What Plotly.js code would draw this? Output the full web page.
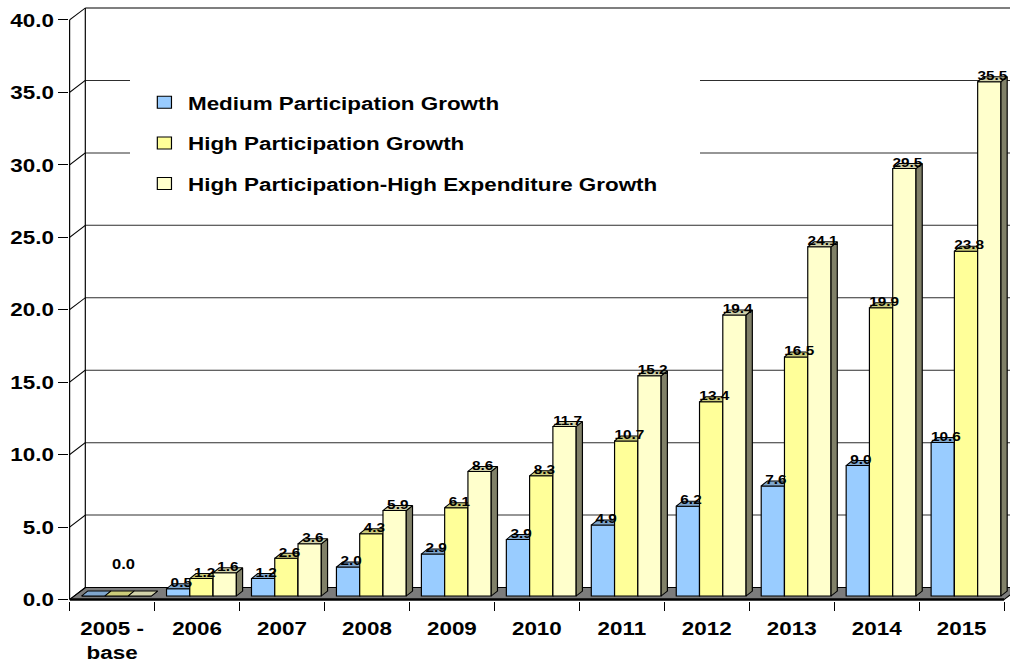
<!DOCTYPE html>
<html>
<head>
<meta charset="utf-8">
<script src="https://cdn.plot.ly/plotly-3.0.1.min.js"></script>
<style>
  html, body { margin: 0; padding: 0; background: #fff; overflow: hidden; }
  #wrap { position: absolute; left: 0; top: 0; width: 856px; height: 670px;
          transform: scaleX(1.17991); transform-origin: 0 0; }
  #chart { width: 856px; height: 670px; }
</style>
</head>
<body>
<div id="wrap"><div id="chart"></div></div>
<script>
// ---- data ----
const categories = ['2005 -<br>base', '2006', '2007', '2008', '2009', '2010', '2011', '2012', '2013', '2014', '2015'];
const seriesNames = ['Medium Participation Growth', 'High Participation Growth', 'High Participation-High Expenditure Growth'];
const mediumGrowth = [0.0, 0.5, 1.2, 2.0, 2.9, 3.9, 4.9, 6.2, 7.6, 9.0, 10.6];
const highGrowth = [0.0, 1.2, 2.6, 4.3, 6.1, 8.3, 10.7, 13.4, 16.5, 19.9, 23.8];
const highExpGrowth = [0.0, 1.6, 3.6, 5.9, 8.6, 11.7, 15.2, 19.4, 24.1, 29.5, 35.5];
const yTickValues = [0, 5, 10, 15, 20, 25, 30, 35, 40];
const yTickLabels = ['0.0', '5.0', '10.0', '15.0', '20.0', '25.0', '30.0', '35.0', '40.0'];

// ---- geometry of the pseudo-3D frame (pixels) ----
const W = 856, H = 670;
const ML = 59, MR = 0, MT = 6, MB = 68.5;
const PLOT_W = W - ML - MR, PLOT_H = H - MT - MB;
const CAT_PX = 72;          // width of one category on the front plane
const UNIT_PX = 14.5;       // pixels per value unit
const BACK_DX = 13.3, BACK_DY = 12;   // back wall offset
const BAR_DX = 3.7, BAR_DY = 3.5;     // bar plane offset
const DEP_DX = 5.3, DEP_DY = 5;       // bar depth
const BAR_W = 0.274;
const BAR_OFFSETS = [-0.4106, -0.1366, 0.1374];

const FONT = 'Liberation Sans, Arial, sans-serif';
const FRONT = ['#99CCFF', '#FFFF99', '#FFFFCC'];
const TOP = ['#7FA6CE', '#CCCC7A', '#D2D2AA'];
const SIDE = '#808068';

const nCat = categories.length;
const idx = categories.map((_, i) => i);

const xr = [-0.5, -0.5 + PLOT_W / CAT_PX];
const y0Px = H - MB - 1.5;                    // pixel row of value 0 on the front plane
const yr = [-(H - MB - y0Px) / UNIT_PX, (y0Px - MT) / UNIT_PX];

const bxU = BACK_DX / CAT_PX, byU = BACK_DY / UNIT_PX;
const barXU = BAR_DX / CAT_PX, barYU = BAR_DY / UNIT_PX;
const depXU = DEP_DX / CAT_PX, depYU = DEP_DY / UNIT_PX;
const backPaperX = BACK_DX / PLOT_W;

const allSeries = [mediumGrowth, highGrowth, highExpGrowth];
const traces = [];

// floor slab
traces.push({
  type: 'scatter', mode: 'lines', xaxis: 'x', yaxis: 'y',
  x: [-0.5, nCat - 0.5, nCat - 0.5 + bxU, -0.5 + bxU, -0.5],
  y: [0, 0, byU, byU, 0],
  fill: 'toself', fillcolor: '#7c7c7c',
  line: { color: '#000', width: 1 }, showlegend: false, hoverinfo: 'skip'
});
traces.push({
  type: 'scatter', mode: 'lines', xaxis: 'x2', yaxis: 'y',
  x: [-0.5, nCat - 0.5], y: [0, 0],
  line: { color: '#000', width: 2.5 }, showlegend: false, hoverinfo: 'skip'
});

// bars: front face (bar), side face and top face per series
allSeries.forEach((vals, s) => {
  const ax = 'x' + (s + 3), ay = 'y' + (s + 3);
  const off = BAR_OFFSETS[s];
  traces.push({
    type: 'bar', xaxis: ax, yaxis: ay, x: idx, y: vals,
    offset: off, width: BAR_W, name: seriesNames[s], legendgroup: 'g' + s,
    marker: { color: FRONT[s], line: { color: '#000', width: 1 } },
    hoverinfo: 'skip'
  });
  const sx = [], sy = [], tx = [], ty = [];
  vals.forEach((v, i) => {
    const a = i + off, b = i + off + BAR_W;
    sx.push(b, b + depXU, b + depXU, b, b, null);
    sy.push(0, depYU, v + depYU, v, 0, null);
    tx.push(a, b, b + depXU, a + depXU, a, null);
    ty.push(v, v, v + depYU, v + depYU, v, null);
  });
  traces.push({
    type: 'scatter', mode: 'lines', xaxis: ax, yaxis: ay, x: sx, y: sy,
    fill: 'toself', fillcolor: SIDE, line: { color: '#000', width: 1 },
    showlegend: false, legendgroup: 'g' + s, hoverinfo: 'skip'
  });
  traces.push({
    type: 'scatter', mode: 'lines', xaxis: ax, yaxis: ay, x: tx, y: ty,
    fill: 'toself', fillcolor: TOP[s], line: { color: '#000', width: 1 },
    showlegend: false, legendgroup: 'g' + s, hoverinfo: 'skip'
  });
});

// value labels sitting on the bar tops
allSeries.forEach((vals, s) => {
  traces.push({
    type: 'scatter', mode: 'text', xaxis: 'x5', yaxis: 'y5',
    x: vals.map((v, i) => i + BAR_OFFSETS[s] + BAR_W / 2 + depXU / 2),
    y: vals.map(v => v + depYU),
    text: vals.map((v, i) => (i === 0 ? '' : v.toFixed(1))),
    textposition: 'middle center', cliponaxis: false,
    textfont: { family: FONT, size: 13, color: '#000', weight: 'bold' },
    showlegend: false, hoverinfo: 'skip'
  });
});

// frame lines
const shapes = [];
yTickValues.forEach(v => {
  if (v > 0 && v < 40) {
    shapes.push({ type: 'line', layer: 'below', xref: 'paper', yref: 'y',
      x0: backPaperX, x1: 1, y0: v + byU, y1: v + byU,
      line: { color: '#2e2e2e', width: 1 } });
  }
});
// clear patch behind the legend
shapes.push({ type: 'rect', layer: 'below', xref: 'paper', yref: 'paper',
  x0: (130 / 1.17991 - ML) / PLOT_W, x1: (700 / 1.17991 - ML) / PLOT_W,
  y0: 1 - (212 - MT) / PLOT_H, y1: 1 - (70 - MT) / PLOT_H,
  fillcolor: '#fff', line: { width: 0 } });
shapes.push({ type: 'line', layer: 'below', xref: 'paper', yref: 'y',
  x0: backPaperX, x1: 1, y0: 40 + byU, y1: 40 + byU, line: { color: '#000', width: 1 } });
shapes.push({ type: 'line', layer: 'below', xref: 'paper', yref: 'y',
  x0: backPaperX, x1: backPaperX, y0: byU, y1: 40 + byU, line: { color: '#000', width: 1 } });
shapes.push({ type: 'line', layer: 'above', xref: 'paper', yref: 'y',
  x0: 0, x1: 0, y0: 0, y1: 40, line: { color: '#000', width: 1 } });
yTickValues.forEach(v => {
  shapes.push({ type: 'line', layer: 'above', xref: 'paper', yref: 'y',
    x0: 0, x1: backPaperX, y0: v, y1: v + byU, line: { color: '#000', width: 1 } });
});

const hiddenAxis = (over, anchor, range) => ({
  overlaying: over, anchor: anchor, range: range, visible: false, fixedrange: true
});

const layout = {
  width: W, height: H,
  margin: { l: ML, r: MR, t: MT, b: MB, pad: 0 },
  paper_bgcolor: '#fff', plot_bgcolor: 'rgba(0,0,0,0)',
  barmode: 'overlay', showlegend: true,
  font: { family: FONT, color: '#000' },
  xaxis: {
    range: xr, tickmode: 'array', tickvals: idx, ticktext: categories,
    ticks: 'outside', ticklen: 10, tickcolor: 'rgba(0,0,0,0)',
    showgrid: false, zeroline: false, showline: false, fixedrange: true,
    tickfont: { family: FONT, size: 19, color: '#000', weight: 'bold' }
  },
  xaxis2: {
    overlaying: 'x', anchor: 'y', range: xr, tickmode: 'array',
    tickvals: idx.map(i => i - 0.5).concat([nCat - 0.5]),
    ticks: 'outside', ticklen: 9, tickwidth: 1, tickcolor: '#000',
    showticklabels: false, showgrid: false, zeroline: false, showline: false, fixedrange: true
  },
  yaxis: {
    range: yr, tickmode: 'array', tickvals: yTickValues, ticktext: yTickLabels,
    ticks: 'outside', ticklen: 8.5, tickwidth: 1, tickcolor: '#000',
    showgrid: false, zeroline: false, showline: false, fixedrange: true,
    tickfont: { family: FONT, size: 19, color: '#000', weight: 'bold' }
  },
  xaxis3: hiddenAxis('x', 'y3', [xr[0] - barXU, xr[1] - barXU]),
  yaxis3: hiddenAxis('y', 'x3', [yr[0] - barYU, yr[1] - barYU]),
  xaxis4: hiddenAxis('x', 'y4', [xr[0] - barXU, xr[1] - barXU]),
  yaxis4: hiddenAxis('y', 'x4', [yr[0] - barYU, yr[1] - barYU]),
  xaxis5: hiddenAxis('x', 'y5', [xr[0] - barXU, xr[1] - barXU]),
  yaxis5: hiddenAxis('y', 'x5', [yr[0] - barYU, yr[1] - barYU]),
  legend: {
    x: 0.0757, xanchor: 'left', y: 0.870, yanchor: 'top',
    bgcolor: 'rgba(0,0,0,0)', borderwidth: 0, tracegroupgap: 13,
    font: { family: FONT, size: 19, color: '#000', weight: 'bold' }
  },
  shapes: shapes,
  annotations: [{
    xref: 'x', yref: 'y', x: 0, y: 0, xshift: 10, yshift: 36,
    text: highGrowth[0].toFixed(1), showarrow: false,
    font: { family: FONT, size: 14, color: '#000', weight: 'bold' }
  }]
};

Plotly.newPlot('chart', traces, layout, { staticPlot: true, displayModeBar: false });
</script>
</body>
</html>
